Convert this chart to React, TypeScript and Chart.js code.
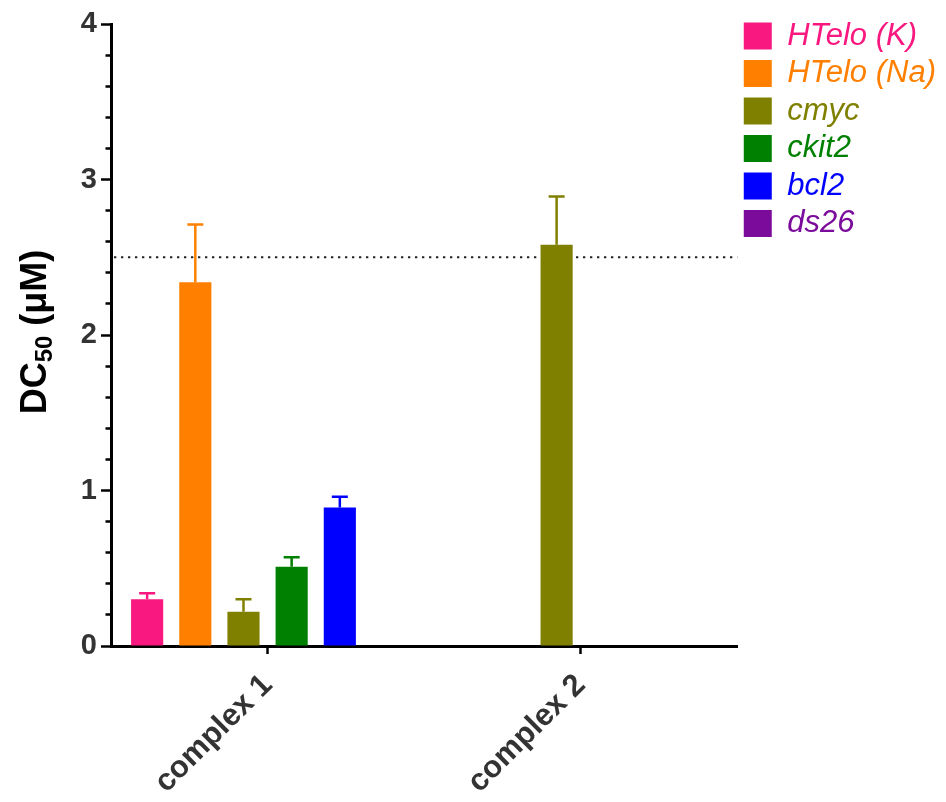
import React, { useEffect, useRef } from 'react';
import { Chart, registerables } from 'chart.js';

Chart.register(...registerables);

// ---------- data ----------
const categories = ['complex 1', 'complex 2'];

const seriesNames = ['HTelo (K)', 'HTelo (Na)', 'cmyc', 'ckit2', 'bcl2', 'ds26'];
const seriesColors = ['#F8187F', '#FF8000', '#808000', '#008000', '#0000FF', '#7B0B9B'];

const htkValues = [0.30, null];
const htkErrors = [0.04, null];
const htnaValues = [2.34, null];
const htnaErrors = [0.37, null];
const cmycValues = [0.22, 2.58];
const cmycErrors = [0.08, 0.31];
const ckit2Values = [0.51, null];
const ckit2Errors = [0.06, null];
const bcl2Values = [0.89, null];
const bcl2Errors = [0.07, null];
const ds26Values = [null, null];
const ds26Errors = [null, null];

const yMin = 0;
const yMax = 4;
const yMinorStep = 0.2;
const thresholdValue = 2.5;

const yTitleMain = 'DC';
const yTitleSub = '50';
const yTitleRest = ' (\u03BCM)';

const FONT = "'Liberation Sans', Arial, Helvetica, sans-serif";

const seriesValues = [htkValues, htnaValues, cmycValues, ckit2Values, bcl2Values, ds26Values];
const seriesErrors = [htkErrors, htnaErrors, cmycErrors, ckit2Errors, bcl2Errors, ds26Errors];

const isMajor = (v: number) => Math.abs(v - Math.round(v)) < 1e-6;

// ---------- plugins ----------
const thresholdPlugin = {
  id: 'thresholdLine',
  beforeDatasetsDraw(chart: any) {
    const { ctx, chartArea, scales } = chart;
    const y = scales.y.getPixelForValue(thresholdValue);
    ctx.save();
    ctx.strokeStyle = '#222';
    ctx.lineWidth = 1.8;
    ctx.setLineDash([2.3, 4.7]);
    ctx.beginPath();
    ctx.moveTo(chartArea.left + 3, y);
    ctx.lineTo(chartArea.right, y);
    ctx.stroke();
    ctx.restore();
  },
};

const errorBarPlugin = {
  id: 'errorBars',
  afterDatasetsDraw(chart: any) {
    const { ctx, scales } = chart;
    chart.data.datasets.forEach((ds: any, i: number) => {
      const meta = chart.getDatasetMeta(i);
      meta.data.forEach((el: any, j: number) => {
        const v = ds.data[j];
        const e = ds.errorBars ? ds.errorBars[j] : null;
        if (v == null || e == null) return;
        const yTop = scales.y.getPixelForValue(v + e);
        const yBar = scales.y.getPixelForValue(v);
        ctx.save();
        ctx.strokeStyle = ds.backgroundColor;
        ctx.lineWidth = 2.5;
        ctx.beginPath();
        ctx.moveTo(el.x, yBar);
        ctx.lineTo(el.x, yTop);
        ctx.moveTo(el.x - 8, yTop);
        ctx.lineTo(el.x + 8, yTop);
        ctx.stroke();
        ctx.restore();
      });
    });
  },
};

const yTitlePlugin = {
  id: 'yTitle',
  afterDraw(chart: any) {
    const ctx = chart.ctx;
    const big = `bold 36px ${FONT}`;
    const small = `bold 24px ${FONT}`;
    ctx.save();
    ctx.font = big;
    const w1 = ctx.measureText(yTitleMain).width;
    const w3 = ctx.measureText(yTitleRest).width;
    ctx.font = small;
    const w2 = ctx.measureText(yTitleSub).width;
    const total = w1 + w2 + w3;
    ctx.translate(46, 332);
    ctx.rotate(-Math.PI / 2);
    ctx.fillStyle = '#000';
    ctx.textAlign = 'left';
    ctx.textBaseline = 'alphabetic';
    let x = -total / 2;
    ctx.font = big;
    ctx.fillText(yTitleMain, x, 0);
    x += w1;
    ctx.font = small;
    ctx.fillText(yTitleSub, x, 6);
    x += w2;
    ctx.font = big;
    ctx.fillText(yTitleRest, x, 0);
    ctx.restore();
  },
};

export default function App() {
  const ref = useRef<HTMLCanvasElement>(null);

  useEffect(() => {
    const datasets = seriesNames.map((name, i) => ({
      label: name,
      data: seriesValues[i],
      errorBars: seriesErrors[i],
      backgroundColor: seriesColors[i],
      borderWidth: 0,
      barPercentage: 0.667,
      categoryPercentage: 0.923,
    }));

    const chart = new Chart(ref.current as HTMLCanvasElement, {
      type: 'bar',
      data: { labels: categories, datasets: datasets as any },
      plugins: [thresholdPlugin, errorBarPlugin, yTitlePlugin],
      options: {
        animation: false,
        responsive: false,
        maintainAspectRatio: false,
        devicePixelRatio: 1,
        layout: { padding: { top: 14, left: 0, right: 0, bottom: 0 } },
        plugins: {
          tooltip: { enabled: false },
          title: { display: false },
          legend: {
            display: true,
            position: 'right',
            align: 'start',
            labels: {
              boxWidth: 28,
              boxHeight: 27,
              padding: 6.5,
              font: { family: FONT, size: 31, style: 'italic' },
              generateLabels: (c: any) =>
                c.data.datasets.map((ds: any, i: number) => ({
                  text: ds.label,
                  fillStyle: ds.backgroundColor,
                  strokeStyle: ds.backgroundColor,
                  lineWidth: 0,
                  fontColor: ds.backgroundColor,
                  hidden: false,
                  datasetIndex: i,
                })),
            },
          },
        },
        scales: {
          x: {
            type: 'category',
            offset: true,
            grid: {
              display: true,
              drawOnChartArea: false,
              drawTicks: true,
              tickLength: 8,
              tickWidth: 2.5,
              tickColor: '#000',
              offset: false,
            },
            border: { display: true, color: '#000', width: 3 },
            ticks: {
              maxRotation: 45,
              minRotation: 45,
              padding: 13,
              color: '#333',
              font: { family: FONT, size: 31, weight: 'bold' },
            },
            afterFit: (s: any) => {
              s.height = 156;
            },
          },
          y: {
            type: 'linear',
            min: yMin,
            max: yMax,
            ticks: {
              stepSize: yMinorStep,
              autoSkip: false,
              maxTicksLimit: 40,
              padding: 4,
              color: '#333',
              font: { family: FONT, size: 29, weight: 'bold' },
              callback: (v: any) => (isMajor(Number(v)) ? String(Math.round(Number(v))) : ''),
            },
            grid: {
              display: true,
              drawOnChartArea: false,
              drawTicks: true,
              tickLength: 10,
              tickWidth: 2.5,
              tickColor: '#000',
              tickBorderDash: (ctx: any) =>
                ctx.tick && isMajor(ctx.tick.value) ? [] : [0, 4.5, 20],
            },
            border: { display: true, color: '#000', width: 3 },
            afterFit: (s: any) => {
              s.width = 111;
              s.paddingTop = 24;
            },
          },
        },
      } as any,
    });
    return () => chart.destroy();
  }, []);

  return (
    <div style={{ position: 'absolute', left: 0, top: 0, width: 946, height: 802, background: '#fff' }}>
      <canvas ref={ref} width={946} height={802} style={{ display: 'block', width: 946, height: 802 }} />
    </div>
  );
}
